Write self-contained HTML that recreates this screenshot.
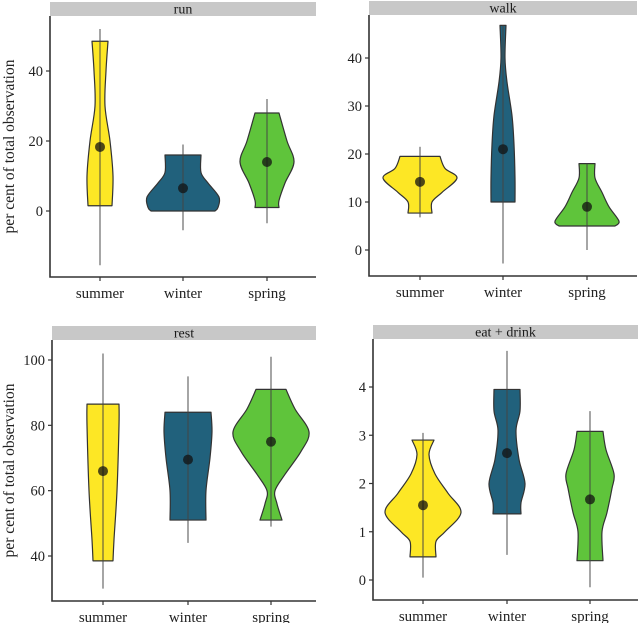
<!DOCTYPE html>
<html><head><meta charset="utf-8">
<style>
html,body{margin:0;padding:0;background:#fff;}
svg{display:block;font-family:"Liberation Serif",serif;}
</style></head>
<body>
<svg id="chart" width="642" height="623" viewBox="0 0 642 623" xmlns="http://www.w3.org/2000/svg"></svg>
<script>
const categories = ["summer","winter","spring"];
const colors = ["#fde725","#21617c","#5fc43b"];
const panelNames = ["run","walk","rest","eat + drink"];
const tickLabels = [[0,20,40],[0,10,20,30,40],[40,60,80,100],[0,1,2,3,4]];
// per panel, per category: [min, max, mean]
const runStats = [[-15.5,52,18.3],[-5.5,19,6.5],[-3.5,32,14]];
const walkStats = [[6.8,21.5,14.2],[-2.8,46.8,21],[0,18,9]];
const restStats = [[30,102,66],[44,95,69.5],[49,101,75]];
const eatStats = [[0.05,3.05,1.55],[0.52,4.75,2.63],[-0.15,3.5,1.67]];
// density profiles: values and densities
const runDensVals = [[48.5,40,30,20,10,1.5],[16,11,8,4,1,0],[28,20,14,8,3,1]];
const runDens = [[8,6,5,10,13,12],[18,18,25,36,35,32],[12,20,27,18,12,12]];
const walkDensVals = [[19.5,17,15,12,10,7.7],[46.8,40,35,28,22,15,10],[18,15,12,9,6,5]];
const walkDens = [[20,25,37,22,12,12],[3,2,4,9,11,12,12],[8,8,15,22,32,28]];
const restDensVals = [[86.5,80,60,45,38.5],[84,78,70,60,51],[91,85,78,72,65,60,56,51]];
const restDens = [[16,16,14,11,10],[23,24,22,18,18],[15,24,38,30,14,4,6,11]];
const eatDensVals = [[2.9,2.6,2.2,1.8,1.4,1.0,0.8,0.48],[3.95,3.5,3.1,2.5,2.0,1.6,1.37],[3.08,2.7,2.2,1.9,1.4,1.0,0.4]];
const eatDens = [[11,6,12,25,38,22,13,13],[13,13,9,12,18,14,14],[13,16,24,22,17,12,13]];

const stats=[runStats,walkStats,restStats,eatStats];
const dvals=[runDensVals,walkDensVals,restDensVals,eatDensVals];
const dens=[runDens,walkDens,restDens,eatDens];
const layout=[
 {l:50,r:316,st:2,sb:16,b:277,va:0,pa:211,vb:40,pb:71,cx:[100,183,267]},
 {l:369,r:637,st:1,sb:15,b:276,va:0,pa:250,vb:40,pb:58,cx:[420,503,587]},
 {l:52,r:316,st:326,sb:340,b:601,va:40,pa:556,vb:100,pb:360,cx:[103,188,271]},
 {l:373,r:638,st:325,sb:339,b:600,va:0,pa:580,vb:4,pb:387,cx:[423,507,590]}
];
const NS="http://www.w3.org/2000/svg";
const svg=document.getElementById('chart');
function mk(tag,attrs,parent){const e=document.createElementNS(NS,tag);for(const k in attrs)e.setAttribute(k,attrs[k]);(parent||svg).appendChild(e);return e;}
function curve(pts){ // catmull-rom through pts, starting already at pts[0]
  let d='';
  for(let i=0;i<pts.length-1;i++){
    const p0=pts[Math.max(0,i-1)],p1=pts[i],p2=pts[i+1],p3=pts[Math.min(pts.length-1,i+2)];
    const c1=[p1[0]+(p2[0]-p0[0])/6,p1[1]+(p2[1]-p0[1])/6];
    const c2=[p2[0]-(p3[0]-p1[0])/6,p2[1]-(p3[1]-p1[1])/6];
    d+=`C${c1[0]},${c1[1]} ${c2[0]},${c2[1]} ${p2[0]},${p2[1]} `;
  }
  return d;
}

layout.forEach((L,p)=>{
  const g=mk('g',{});
  
  
  const y=v=>L.pa+(v-L.va)*(L.pb-L.pa)/(L.vb-L.va);
  const strip=mk('rect',{x:L.l,y:L.st,width:L.r-L.l,height:L.sb-L.st,fill:'#c8c8c8'},g);
  
  
  const st=mk('text',{x:(L.l+L.r)/2,y:L.sb-2.5,'text-anchor':'middle','font-size':'14',fill:'#1a1a1a'},g);
  st.textContent=panelNames[p];
  
  
  const ax=mk('path',{d:`M${L.l},${L.sb} V${L.b} H${L.r}`,fill:'none',stroke:'#333','stroke-width':'1.6'},g);
  
  
  tickLabels[p].forEach(t=>{
    const yy=y(t);
    mk('line',{x1:L.l-4,x2:L.l,y1:yy,y2:yy,stroke:'#333','stroke-width':'1.2'},g);
    const tl=mk('text',{x:L.l-7,y:yy+5,'text-anchor':'end','font-size':'14.5',fill:'#222'},g);
    tl.textContent=t;
    
    
  });
  categories.forEach((c,i)=>{
    const x=L.cx[i];
    mk('line',{x1:x,x2:x,y1:L.b,y2:L.b+4,stroke:'#333','stroke-width':'1.2'},g);
    const xl=mk('text',{x:x,y:L.b+21,'text-anchor':'middle','font-size':'15',fill:'#222'},g);
    xl.textContent=c;
    
    
    const vs=dvals[p][i], ds=dens[p][i];
    const right=vs.map((v,k)=>[x+ds[k],y(v)]);
    const left=vs.map((v,k)=>[x-ds[k],y(v)]).reverse();
    let d=`M${left[left.length-1][0]},${left[left.length-1][1]} L${right[0][0]},${right[0][1]} `;
    d+=curve(right);
    d+=`L${left[0][0]},${left[0][1]} `;
    d+=curve(left);
    d+='Z';
    const vi=mk('path',{d:d,fill:colors[i],stroke:'#333','stroke-width':'1.2','stroke-linejoin':'round'},g);
    
    
    const s=stats[p][i];
    const wl=mk('line',{x1:x,x2:x,y1:y(s[0]),y2:y(s[1]),stroke:'#444','stroke-width':'1.6','stroke-opacity':'0.6'},g);
    
    
    const pt=mk('circle',{cx:x,cy:y(s[2]),r:5,fill:'#111','fill-opacity':'0.75'},g);
    
    
  });
  if(p===0||p===2){
    const cy=(L.sb+L.b)/2;
    const yt=mk('text',{x:0,y:0,transform:`translate(14,${cy}) rotate(-90)`,'text-anchor':'middle','font-size':'15.5',fill:'#222'},g);
    yt.textContent='per cent of total observation';
    
    
  }
});
</script>
</body></html>
